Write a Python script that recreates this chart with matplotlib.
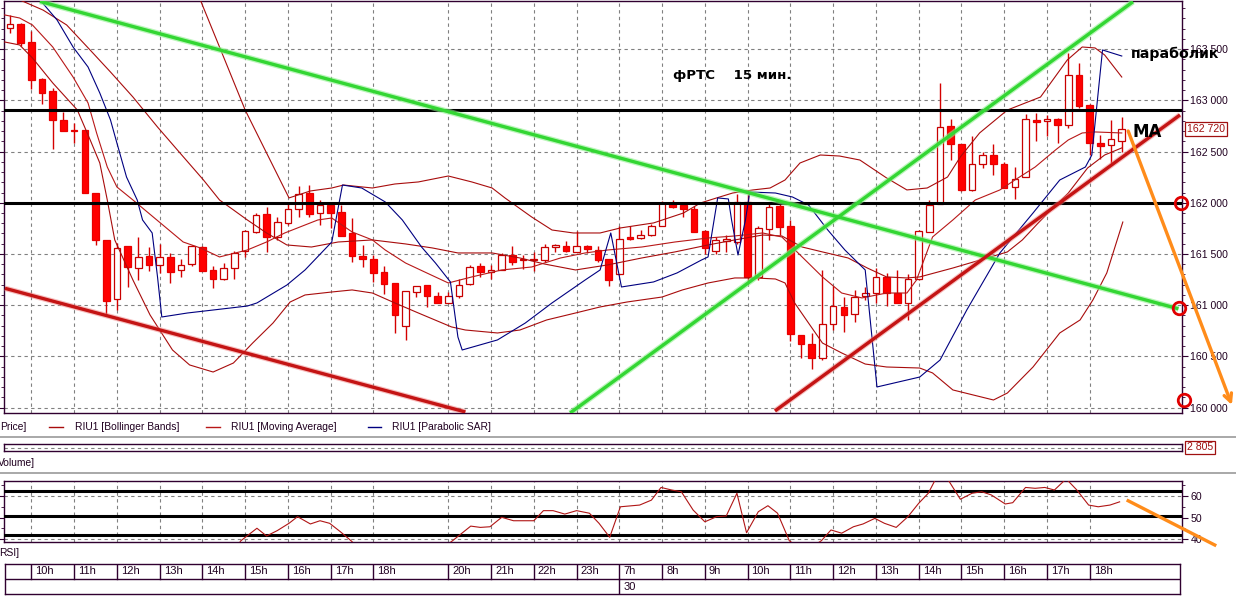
import matplotlib
matplotlib.use('Agg')
import matplotlib.pyplot as plt
import numpy as np
from matplotlib.lines import Line2D
from matplotlib.ticker import MultipleLocator, FuncFormatter, FixedLocator
from matplotlib.transforms import blended_transform_factory

# ---------------- data ----------------
opens = [163710, 163740, 163570, 163210, 163090, 162810, 162710, 162710, 162100, 161640,
         161060, 161580, 161360, 161480, 161390, 161470, 161340, 161400, 161570, 161340,
         161260, 161360, 161530, 161710, 161890, 161670, 161800, 161940, 162100, 161900,
         161980, 161910, 161700, 161480, 161450, 161320, 161220, 160800, 161130, 161200,
         161090, 161020, 161090, 161210, 161380, 161320, 161340, 161490, 161440, 161440,
         161440, 161570, 161580, 161520, 161580, 161540, 161450, 161300, 161665, 161660,
         161690, 161770, 161990, 161980, 161940, 161720, 161530, 161630, 161620, 162010,
         161280, 161740, 161970, 161770, 160710, 160620, 160480, 160820, 160980, 160910,
         161090, 161120, 161280, 161120, 161020, 161260, 161710, 161990, 162750, 162570,
         162120, 162380, 162470, 162380, 162150, 162250, 162810, 162800, 162820, 162760,
         163250, 162950, 162580, 162560, 162600]
highs = [163830, 163750, 163680, 163220, 163120, 162890, 162780, 162710, 162100, 161640,
         161610, 161580, 161670, 161570, 161600, 161510, 161450, 161590, 161580, 161380,
         161410, 161530, 161730, 161900, 161960, 161860, 162000, 162160, 162170, 162030,
         162000, 161980, 161850, 161590, 161490, 161380, 161220, 161140, 161190, 161200,
         161130, 161130, 161260, 161390, 161410, 161390, 161510, 161580, 161490, 161520,
         161600, 161600, 161630, 161720, 161590, 161580, 161450, 161770, 161770, 161730,
         161790, 162020, 162030, 161980, 161970, 161730, 161670, 161690, 162090, 162090,
         161770, 162000, 162000, 161830, 160710, 160730, 161340, 161190, 161080, 161150,
         161180, 161360, 161310, 161340, 161300, 161730, 162030, 163170, 162820, 162570,
         162650, 162500, 162570, 162400, 162350, 162870, 162880, 162860, 162830, 163460,
         163360, 162960, 162660, 162810, 162840]
lows = [163660, 163530, 163110, 162960, 162520, 162700, 162580, 162100, 161590, 160900,
        160950, 161180, 161250, 161330, 161310, 161220, 161280, 161380, 161330, 161170,
        161250, 161260, 161470, 161700, 161520, 161640, 161780, 161860, 161860, 161780,
        161750, 161680, 161420, 161370, 161230, 161110, 160730, 160660, 161080, 160980,
        161020, 161020, 161070, 161200, 161280, 161260, 161340, 161390, 161350, 161330,
        161420, 161520, 161520, 161520, 161510, 161420, 161190, 161290, 161640, 161650,
        161680, 161770, 161950, 161860, 161710, 161500, 161500, 161520, 161600, 161210,
        161250, 161640, 161690, 160650, 160480, 160380, 160470, 160760, 160740, 160840,
        161050, 161020, 160990, 161020, 160860, 161250, 161710, 161990, 162420, 162110,
        162110, 162340, 162270, 162140, 162040, 162250, 162600, 162650, 162580, 162730,
        162920, 162470, 162430, 162390, 162500]
closes = [163740, 163560, 163200, 163070, 162810, 162700, 162700, 162100, 161640, 161040,
          161560, 161370, 161470, 161390, 161470, 161320, 161390, 161580, 161330, 161260,
          161360, 161510, 161720, 161880, 161670, 161810, 161940, 162090, 161890, 161980,
          161900, 161680, 161480, 161450, 161310, 161210, 160900, 161140, 161190, 161090,
          161020, 161090, 161200, 161370, 161320, 161340, 161490, 161420, 161440, 161440,
          161570, 161570, 161530, 161580, 161550, 161440, 161250, 161650, 161645, 161690,
          161770, 162000, 161960, 161940, 161710, 161560, 161640, 161640, 162010, 161280,
          161750, 161960, 161760, 160720, 160620, 160480, 160820, 160990, 160900, 161080,
          161120, 161280, 161120, 161025, 161260, 161720, 161980, 162740, 162570, 162120,
          162380, 162470, 162380, 162140, 162230, 162820, 162790, 162820, 162760, 163250,
          162940, 162580, 162550, 162620, 162720]

# indicator lines (x in candle index units, price values)
bb_upper_x = [16.8, 17.8, 19.6, 22.0, 24.0, 26.1, 28.1, 30.1, 31.2, 33.9, 36.0, 38.2, 41.0, 43.2,
              45.1, 46.3, 48.8, 50.7, 52.7, 55.2, 57.1, 60.2, 63.0, 64.6, 66.1, 67.6, 69.5, 71.1,
              72.5, 73.9, 75.8, 77.6, 79.5, 82.0, 83.9, 85.8, 87.7, 88.9, 90.7, 93.3, 96.4, 98.9,
              100.3, 101.5, 102.4, 104.0]
bb_upper_y = [164220, 163980, 163520, 162905, 162486, 162047, 162115, 162144, 162173, 162144,
              162183, 162203, 162261, 162203, 162144, 162047, 161861, 161734, 161705, 161705,
              161754, 161803, 161900, 161998, 162047, 162095, 162125, 162144, 162222, 162388,
              162466, 162456, 162417, 162242, 162125, 162144, 162251, 162447, 162681, 162905,
              163032, 163393, 163520, 163511, 163442, 163227]
bb_mid_x = [0.5, 0.9, 3.1, 5.3, 7.5, 9.4, 11.5, 13.8, 15.9, 18.1, 19.6, 20.9, 22.2, 24.0, 25.9,
            28.2, 30.7, 33.9, 37.0, 39.5, 41.9, 45.1, 47.7, 50.0, 52.9, 55.9, 59.1, 62.2, 65.3,
            67.8, 70.4, 72.2, 74.1, 76.0, 78.4, 80.2, 82.0, 83.9, 85.1, 88.2, 91.4, 93.3, 94.7,
            96.1, 97.1, 99.0, 100.8, 102.4, 104.0]
bb_mid_y = [164030, 163980, 163880, 163735, 163490, 163276, 163032, 162739, 162486, 162222,
            162027, 161930, 161832, 161705, 161588, 161568, 161617, 161637, 161598, 161559,
            161510, 161510, 161461, 161402, 161344, 161393, 161461, 161520, 161588, 161637,
            161685, 161676, 161568, 161520, 161461, 161363, 161276, 161266, 161276, 161363,
            161461, 161520, 161637, 161793, 161900, 162095, 162339, 162466, 162535]
bb_lower_x = [-0.5, 0.9, 2.1, 4.0, 6.3, 7.5, 8.4, 9.1, 9.8, 11.5, 13.1, 15.2, 16.8, 19.0, 20.9,
              22.7, 24.6, 26.2, 27.6, 30.1, 32.0, 33.9, 36.0, 38.2, 41.3, 42.6, 45.6, 47.7, 50.2,
              52.9, 55.2, 57.7, 61.0, 62.9, 65.3, 67.8, 69.7, 71.6, 72.5, 73.4, 74.7, 76.0, 77.8,
              80.0, 82.0, 85.1, 86.3, 88.2, 92.0, 93.3, 95.7, 98.2, 100.1, 101.3, 102.6, 104.1]
bb_lower_y = [163569, 163540, 163413, 163169, 162905, 162613, 162388, 162027, 161637, 161246,
              160905, 160563, 160417, 160348, 160436, 160631, 160826, 161031, 161100, 161129,
              161149, 161119, 161022, 160924, 160788, 160758, 160729, 160758, 160856, 160924,
              160983, 161031, 161080, 161149, 161217, 161266, 161266, 161256, 161217, 161022,
              160826, 160631, 160534, 160426, 160397, 160387, 160339, 160173, 160075, 160143,
              160397, 160729, 160856, 161051, 161315, 161812]
ma_x = [-0.5, 0.9, 2.1, 4.0, 5.9, 7.3, 8.1, 9.1, 10.0, 11.5, 13.4, 16.2, 17.8, 19.6, 22.2, 24.0,
        25.7, 27.6, 28.8, 30.1, 32.0, 33.9, 35.1, 37.0, 38.8, 41.0, 43.2, 46.0, 48.8, 51.5, 53.8,
        55.9, 59.1, 62.2, 65.3, 67.8, 70.4, 72.2, 74.1, 76.0, 77.8, 79.7, 82.0, 83.9, 84.8, 86.3,
        88.2, 90.3, 92.6, 94.0, 95.9, 97.8, 99.0, 100.3, 101.5, 104.0]
ma_y = [163833, 163803, 163735, 163520, 163227, 162974, 162681, 162349, 162154, 162027, 161861,
        161617, 161559, 161471, 161539, 161617, 161705, 161783, 161832, 161851, 161715, 161637,
        161539, 161412, 161324, 161217, 161276, 161344, 161373, 161461, 161510, 161539, 161568,
        161617, 161656, 161676, 161705, 161666, 161471, 161276, 161119, 161071, 161119, 161119,
        161246, 161666, 161832, 162027, 162125, 162222, 162349, 162515, 162613, 162681, 162691,
        162681]
sar_x = [2.3, 2.8, 4.4, 5.9, 7.3, 8.4, 9.4, 10.0, 10.9, 11.9, 12.4, 13.3, 13.8, 14.2, 16.6, 22.2,
         23.1, 25.9, 27.6, 30.1, 31.1, 32.9, 35.1, 36.7, 38.5, 39.8, 41.2, 41.9, 42.3, 45.6, 48.2,
         50.7, 53.8, 55.2, 56.2, 57.2, 60.2, 62.4, 64.7, 65.3, 66.2, 67.2, 67.5, 68.1, 68.8, 69.2,
         71.6, 73.2, 74.7, 76.5, 78.1, 80.0, 81.1, 85.1, 87.0, 89.5, 92.6, 95.7, 98.2, 100.6,
         101.2, 102.2, 104.0]
sar_y = [164077, 163980, 163784, 163520, 163325, 163071, 162808, 162583, 162251, 162027, 161832,
         161705, 161276, 160885, 160924, 160992, 161022, 161197, 161344, 161617, 162173, 162144,
         162008, 161832, 161568, 161412, 161227, 160690, 160563, 160661, 160826, 161022, 161246,
         161344, 161705, 161178, 161227, 161315, 161442, 161471, 162047, 162037, 161832, 161490,
         161832, 162105, 162095, 162056, 161978, 161734, 161539, 161344, 160202, 160299, 160465,
         160953, 161510, 161900, 162222, 162349, 162466, 163491, 163432]

rsi_x = [21.0, 21.6, 23.1, 24.0, 25.0, 26.1, 26.9, 28.1, 29.0, 29.9, 30.9, 31.9, 33.0, 40.0,
         41.4, 43.1, 44.0, 44.9, 46.0, 47.1, 49.0, 49.9, 50.8, 51.9, 53.0, 54.2, 55.1, 56.1,
         57.1, 58.9, 60.0, 60.9, 61.9, 62.8, 63.9, 65.0, 66.1, 67.0, 68.0, 68.9, 70.0, 70.9,
         71.8, 72.9, 74.3, 75.9, 76.8, 77.8, 78.9, 79.8, 80.9, 81.8, 82.9, 84.0, 85.0, 85.9,
         86.6, 87.7, 88.9, 90.0, 90.9, 91.8, 93.1, 93.8, 95.0, 95.9, 96.8, 97.7, 98.8, 99.8,
         100.9, 101.8, 102.9, 103.8]
rsi_v = [35.0, 39.2, 45.0, 41.4, 43.9, 47.3, 50.4, 47.0, 48.5, 47.3, 43.4, 39.2, 34.0, 34.0,
         39.2, 46.0, 45.4, 45.7, 50.1, 48.5, 48.5, 53.2, 53.2, 51.6, 53.2, 52.0, 47.3, 40.8,
         55.0, 55.8, 58.1, 64.0, 62.8, 62.0, 53.5, 48.0, 50.4, 50.7, 61.3, 42.9, 52.7, 55.5,
         52.0, 39.2, 34.0, 39.2, 44.2, 42.7, 45.7, 47.0, 49.6, 47.3, 45.4, 50.4, 56.6, 61.3,
         68.0, 68.0, 58.5, 61.3, 62.0, 60.5, 56.3, 56.9, 64.0, 63.6, 64.0, 62.8, 68.0, 62.8,
         55.8, 55.0, 55.8, 57.3]
rsi_levels = [62.5, 50.7, 42.0]

hour_labels = ['10h', '11h', '12h', '13h', '14h', '15h', '16h', '17h', '18h', '20h', '21h', '22h',
               '23h', '7h', '8h', '9h', '10h', '11h', '12h', '13h', '14h', '15h', '16h', '17h', '18h']
hour_start = [2, 6, 10, 14, 18, 22, 26, 30, 34, 41, 45, 49, 53, 57, 61, 65, 69, 73, 77, 81, 85,
              89, 93, 97, 101]
day_label = '30'
day_start = 57

level_lines = [162905, 162000]
green_lines = [((2.8, 163965), (109.3, 160965)), ((52.4, 159948), (105.05, 163962))]
red_lines = [((-0.47, 161165), (42.6, 159958)), ((71.56, 159968), (109.45, 162857))]
circles_x = [109.5, 109.35, 109.8]
circles_y = [162000, 160970, 160075]
last_price = 162720
last_volume = '2 805'

# ---------------- layout ----------------
W, H = 1236, 597
fig = plt.figure(figsize=(W / 100, H / 100), dpi=100)
fig.patch.set_facecolor('white')

def fr(x0, y0, x1, y1):
    return [x0 / W, 1 - y1 / H, (x1 - x0) / W, (y1 - y0) / H]

def px2idx(x):
    return (x - 10) / 10.69

XMIN, XMAX = px2idx(4), px2idx(1182)
SPINE = '#300030'
GRID = '#808080'
LINE_RED = '#a80c0c'
TXT = '#200020'
FONT = 'Liberation Sans'
BOLD = ['DejaVu Sans']

def style_spines(a):
    for s in a.spines.values():
        s.set_color(SPINE)
        s.set_linewidth(1.0)

def price_fmt(v, pos=None):
    return f"{int(round(v)):,}".replace(',', ' ')

# ---------------- main price panel ----------------
ax = fig.add_axes(fr(4, 1, 1182, 413))
ax.set_xlim(XMIN, XMAX)
ax.set_ylim(159948, 163969)
style_spines(ax)
ax.set_xticks([])
ax.yaxis.tick_right()
ax.yaxis.set_major_locator(MultipleLocator(500))
ax.yaxis.set_minor_locator(MultipleLocator(100))
ax.yaxis.set_major_formatter(FuncFormatter(price_fmt))
ax.tick_params(axis='y', which='both', direction='out', colors=SPINE, labelcolor=TXT,
               left=True, right=True, labelsize=7.6, pad=2)
ax.tick_params(axis='y', which='major', length=4)
ax.tick_params(axis='y', which='minor', length=2.5)
for lab in ax.get_yticklabels():
    lab.set_family(FONT)
for h in hour_start:
    ax.axvline(h, color=GRID, lw=0.8, ls=(0, (3, 3)), zorder=1)
for v in np.arange(160000, 164000, 500):
    ax.axhline(v, color=GRID, lw=0.8, ls=(0, (3, 3)), zorder=1)

o = np.array(opens, float); c = np.array(closes, float)
hi = np.array(highs, float); lo = np.array(lows, float)
idx = np.arange(len(o))
bull = c >= o
blo = np.minimum(o, c)
bh = np.maximum(np.abs(c - o), 14)
ax.vlines(idx, lo, hi, color='#d40000', lw=1.0, zorder=3)
ax.bar(idx[bull], bh[bull], bottom=blo[bull], width=0.62, facecolor='white',
       edgecolor='#c80000', lw=0.9, zorder=4)
ax.bar(idx[~bull], bh[~bull], bottom=blo[~bull], width=0.62, facecolor='#ff0000',
       edgecolor='#e80000', lw=0.9, zorder=4)

ax.plot(bb_upper_x, bb_upper_y, color=LINE_RED, lw=0.8, zorder=5)
ax.plot(bb_mid_x, bb_mid_y, color=LINE_RED, lw=0.8, zorder=5)
ax.plot(bb_lower_x, bb_lower_y, color=LINE_RED, lw=0.8, zorder=5)
ax.plot(ma_x, ma_y, color='#b81818', lw=0.8, zorder=5)
ax.plot(sar_x, sar_y, color='#000080', lw=0.8, zorder=5)

for v in level_lines:
    ax.axhline(v, color='black', lw=2.2, zorder=6)
for (x0, y0), (x1, y1) in green_lines:
    ax.plot([x0, x1], [y0, y1], color='#8ef08e', lw=4.2, alpha=0.6, zorder=6, solid_capstyle='butt')
    ax.plot([x0, x1], [y0, y1], color='#33d633', lw=2.4, zorder=7, solid_capstyle='butt')
for (x0, y0), (x1, y1) in red_lines:
    ax.plot([x0, x1], [y0, y1], color='#f08080', lw=4.0, alpha=0.5, zorder=6, solid_capstyle='butt')
    ax.plot([x0, x1], [y0, y1], color='#c41414', lw=2.4, zorder=7, solid_capstyle='butt')

ax.annotate('', xy=(114.3, 160026), xytext=(104.6, 162700),
            arrowprops=dict(arrowstyle='->', color='#ff8c1a', lw=2.4, mutation_scale=14,
                            shrinkA=0, shrinkB=0),
            annotation_clip=False, zorder=8)
ax.plot(circles_x, circles_y, 'o', mfc='none', mec='#e00000', ms=9, mew=2.0,
        clip_on=False, zorder=9)

tb = blended_transform_factory(ax.transAxes, ax.transData)
ax.text(1.0045, last_price, price_fmt(last_price), transform=tb, fontsize=7.6, family=FONT,
        color='#a01010', va='center', ha='left', zorder=10,
        bbox=dict(boxstyle='square,pad=0.18', fc='white', ec='#a01010', lw=0.9))

fig.text(673 / W, 1 - 76 / H, 'фРТС    15 мин.', fontsize=9.6, fontweight='bold',
         family=BOLD, va='center', ha='left', color='black')
fig.text(1131 / W, 1 - 54 / H, 'параболик', fontsize=10.2, fontweight='bold',
         family=BOLD, va='center', ha='left', color='black', zorder=20)
fig.text(1132 / W, 1 - 132 / H, 'МА', fontsize=12, fontweight='bold',
         family=BOLD, va='center', ha='left', color='black', zorder=20)

# ---------------- legend row ----------------
ly = 1 - 427 / H
fig.text(0 / W, ly, 'Price]', fontsize=7.4, family=FONT, color=TXT, va='center', ha='left')
for (lx0, lx1, col, lab, tx) in [(49, 63, '#a80c0c', 'RIU1 [Bollinger Bands]', 75),
                                  (206, 220, '#b81818', 'RIU1 [Moving Average]', 231),
                                  (368, 381, '#000080', 'RIU1 [Parabolic SAR]', 392)]:
    fig.add_artist(Line2D([lx0 / W, lx1 / W], [ly, ly], color=col, lw=1.0))
    fig.text(tx / W, ly, lab, fontsize=7.4, family=FONT, color=TXT, va='center', ha='left')

for yy in (437, 473):
    fig.add_artist(Line2D([0, 1], [1 - yy / H, 1 - yy / H], color='#a8a8a8', lw=1.4))

# ---------------- volume panel ----------------
axv = fig.add_axes(fr(4, 444, 1182, 451))
axv.set_xlim(XMIN, XMAX)
axv.set_ylim(0, 1)
style_spines(axv)
axv.set_xticks([])
axv.set_yticks([])
axv.axhline(0.5, color=GRID, lw=0.8, ls=(0, (3, 3)))
axv.text(1.0045, 0.5, last_volume, transform=axv.transAxes, fontsize=7.6, family=FONT,
         color='#a01010', va='center', ha='left',
         bbox=dict(boxstyle='square,pad=0.18', fc='white', ec='#a01010', lw=0.9))
fig.text(-2 / W, 1 - 463 / H, 'Volume]', fontsize=7.4, family=FONT, color=TXT,
         va='center', ha='left')

# ---------------- RSI panel ----------------
axr = fig.add_axes(fr(4, 481, 1182, 542))
axr.set_xlim(XMIN, XMAX)
axr.set_ylim(38.6, 67.0)
style_spines(axr)
axr.set_xticks([])
axr.yaxis.tick_right()
axr.yaxis.set_major_locator(FixedLocator([40, 50, 60]))
axr.yaxis.set_minor_locator(FixedLocator([45, 55, 65]))
axr.tick_params(axis='y', which='both', direction='out', colors=SPINE, labelcolor=TXT,
                left=True, right=True, labelsize=7.6, pad=2)
axr.tick_params(axis='y', which='major', length=4)
axr.tick_params(axis='y', which='minor', length=2.5)
for lab in axr.get_yticklabels():
    lab.set_family(FONT)
for h in hour_start:
    axr.axvline(h, color=GRID, lw=0.8, ls=(0, (3, 3)), zorder=1)
for v in (60, 40):
    axr.axhline(v, color=GRID, lw=0.8, ls=(0, (3, 3)), zorder=1)
for v in rsi_levels:
    axr.axhline(v, color='black', lw=2.2, zorder=3)
axr.plot(rsi_x, rsi_v, color='#b01515', lw=0.8, zorder=4)
axr.plot([104.6, 112.7], [57.8, 37.2], color='#ff8c1a', lw=2.4, clip_on=False, zorder=6)
fig.text(-1 / W, 1 - 553 / H, 'RSI]', fontsize=7.4, family=FONT, color=TXT,
         va='center', ha='left')

# ---------------- time axis table ----------------
axt = fig.add_axes(fr(5, 564, 1180, 594))
axt.set_xlim(px2idx(5), px2idx(1180))
axt.set_ylim(0, 2)
style_spines(axt)
axt.set_xticks([]); axt.set_yticks([])
axt.axhline(1, color=SPINE, lw=1.0)
for h, lab in zip(hour_start, hour_labels):
    axt.plot([h, h], [1, 2], color=SPINE, lw=1.0)
    axt.text(h + 0.37, 1.5, lab, fontsize=8, family=FONT, color=TXT, va='center', ha='left')
axt.plot([day_start, day_start], [0, 1], color=SPINE, lw=1.0)
axt.text(day_start + 0.37, 0.5, day_label, fontsize=8, family=FONT, color=TXT,
         va='center', ha='left')

fig.savefig('out.png', dpi=100)
